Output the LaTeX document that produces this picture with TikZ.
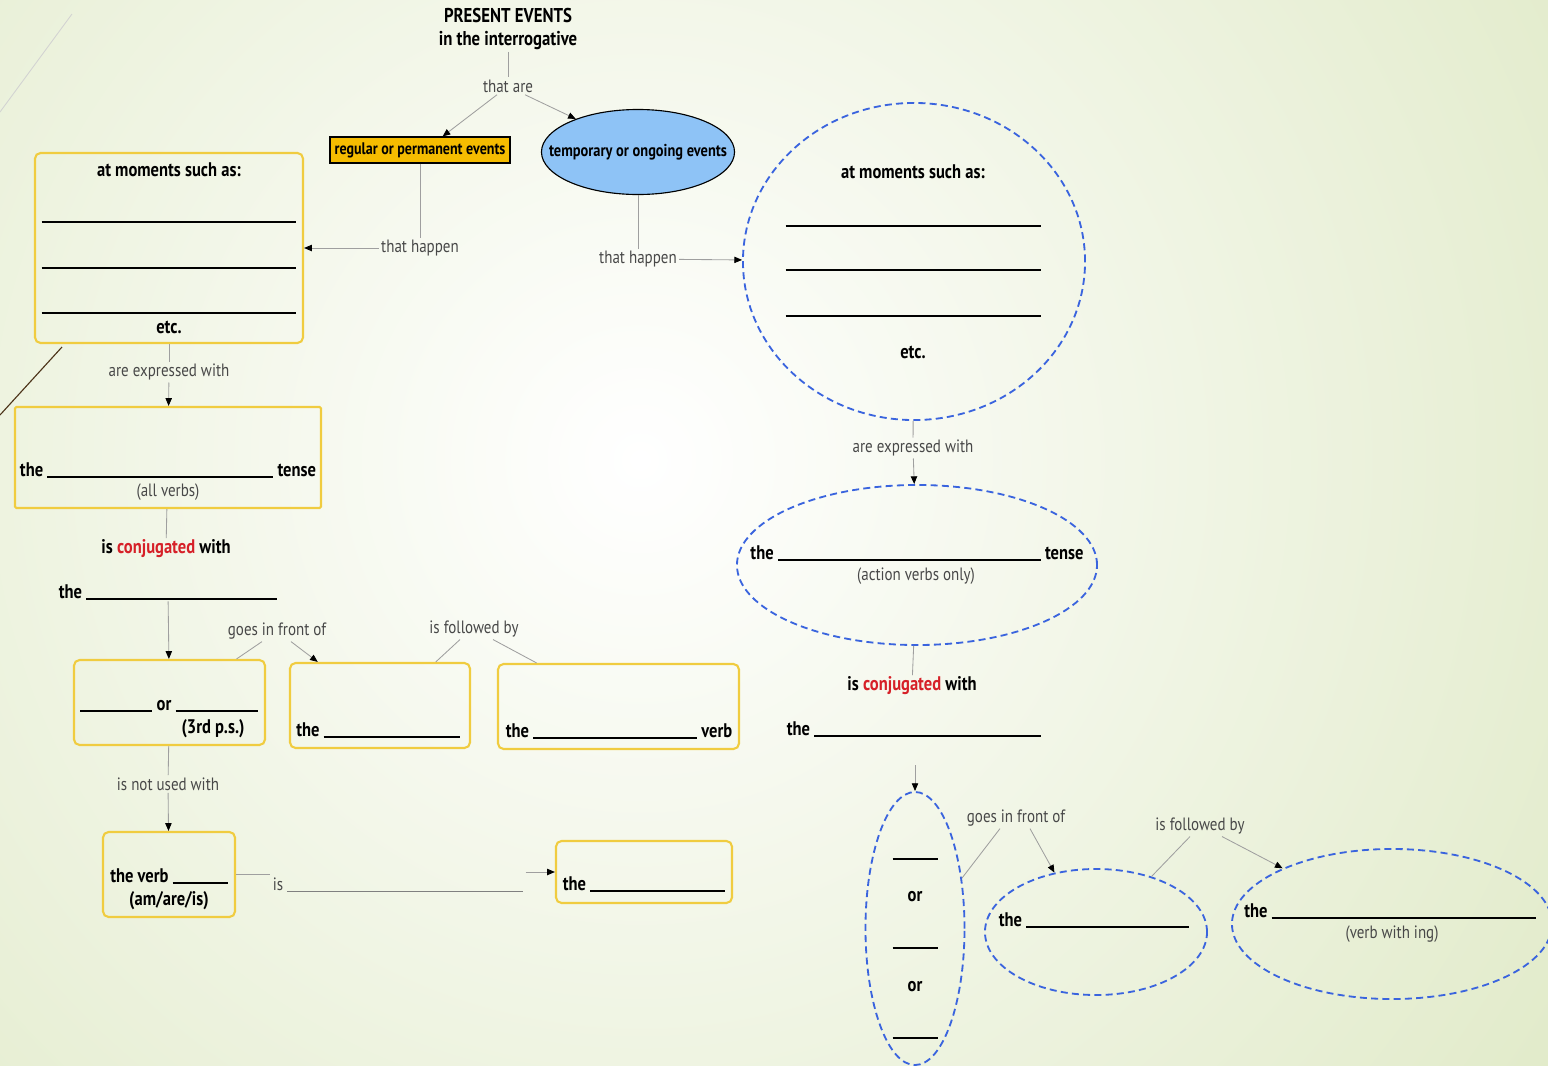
\documentclass[tikz,border=0pt]{standalone}
\usepackage{fontspec}
\setmainfont{PT Sans}[FakeStretch=0.84]
\usetikzlibrary{shapes.geometric,arrows.meta,calc}
\definecolor{boxyellow}{RGB}{240,204,64}
\definecolor{regfill}{RGB}{245,188,0}
\definecolor{tmpfill}{RGB}{142,195,246}
\definecolor{dashblue}{RGB}{58,100,222}
\definecolor{labgray}{RGB}{72,72,72}
\definecolor{conjred}{RGB}{214,32,40}
\definecolor{bggreen}{RGB}{220,231,192}
\newlength\pxu
\setlength\pxu{0.025cm}
\newcommand{\blank}[1]{\rule[-1.2pt]{#1\pxu}{0.9pt}}
\newcommand{\conjwith}{is \textcolor{conjred}{conjugated} with}

\begin{document}
\begin{tikzpicture}[x=0.025cm,y=-0.025cm,
  every node/.style={font=\fontsize{12.7}{15}\selectfont},
  ybox/.style={draw=boxyellow,line width=1.5pt,rounded corners=4pt,inner sep=0pt},
  bell/.style={ellipse,draw=dashblue,dash pattern=on 5pt off 3pt,line width=1.3pt,inner sep=0pt},
  bt/.style={font=\fontsize{14}{16}\selectfont\bfseries,inner sep=1pt},
  lab/.style={text=labgray,inner sep=1.5pt},
  gt/.style={text=labgray,inner sep=1pt},
  ln/.style={draw=gray!75,line width=0.6pt},
  arr/.style={ln,-{Triangle[length=5.5pt,width=4.5pt,black]}}]
  \useasboundingbox (0,0) rectangle (1548,1066);
  \clip (0,0) rectangle (1548,1066);
  \fill[bggreen] (0,0) rectangle (1548,1066);
  \shade[inner color=white,outer color=bggreen] (640,460) circle [radius=1300];
  \draw[gray!35,line width=0.6pt] (72,14) -- (0,112);
  \draw[black!60!brown,line width=0.8pt] (62,347) -- (0,415);

  % top
  \node[bt,align=center,font=\fontsize{14.2}{17}\selectfont\bfseries] (title) at (508,29) {PRESENT EVENTS\\in the interrogative};
  \node[lab] (thatare) at (508,86) {that are};
  \node[draw=black,fill=regfill,line width=0.8pt,inner sep=1pt,minimum width=4.5cm,minimum height=0.65cm,font=\fontsize{11.9}{13}\selectfont\bfseries] (reg) at (420,150) {regular or permanent events};
  \node[ellipse,draw=black,fill=tmpfill,line width=0.8pt,inner sep=0pt,minimum width=4.825cm,minimum height=2.125cm] (tmp) at (638,152) {};
  \node[font=\fontsize{12.2}{14}\selectfont\bfseries,inner sep=0pt] (tmpt) at (638,152) {temporary or ongoing events};
  \node[lab] (hap1) at (420,248) {that happen};
  \node[lab] (hap2) at (638,259) {that happen};

  % left column
  \node[ybox,minimum width=6.7cm,minimum height=4.75cm] (mom1) at (169,248) {};
  \node[bt,anchor=base] (mom1t) at (169,176) {at moments such as:};
  \foreach \y/\n in {222/a,268/b,313/c}
    \node[inner sep=0pt] (mom1\n) at (169,\y) {\rule{255\pxu}{0.9pt}};
  \node[bt,anchor=base] (mom1e) at (169,333) {etc.};
  \node[lab] (exp1) at (169,372) {are expressed with};
  \node[ybox,rounded corners=1pt,minimum width=7.65cm,minimum height=2.525cm] (tense1) at (168,457.5) {};
  \node[bt,anchor=base] (tense1t) at (168,476) {the \blank{226} tense};
  \node[gt] (tense1n) at (168,492) {(all verbs)};
  \node[bt] (conj1) at (166,549) {\conjwith};
  \node[bt,anchor=base] (the1) at (168,598) {the \blank{191}};

  \node[ybox,minimum width=4.775cm,minimum height=2.125cm] (orbox) at (169.5,702.5) {};
  \node[bt,anchor=base] (orboxt) at (169,710) {\blank{72} or \blank{82}};
  \node[bt,anchor=base] (orboxn) at (213,733) {(3rd p.s.)};
  \node[lab] (goes1) at (277,631) {goes in front of};
  \node[ybox,minimum width=4.5cm,minimum height=2.125cm] (theb2) at (380,705.5) {};
  \node[bt,anchor=base] (theb2t) at (378,736) {the \blank{136}};
  \node[lab] (foll1) at (474,629) {is followed by};
  \node[ybox,minimum width=6.025cm,minimum height=2.125cm] (verbb) at (618.5,706.5) {};
  \node[bt,anchor=base] (verbbt) at (619,737) {the \blank{164} verb};

  \node[lab] (notused) at (168,784) {is not used with};
  \node[ybox,minimum width=3.3cm,minimum height=2.125cm] (amb) at (169,874.5) {};
  \node[bt,anchor=base] (ambt) at (169,882) {the verb \blank{55}};
  \node[bt,anchor=base] (ambn) at (169,905) {(am/are/is)};
  \node[lab,anchor=base] (isl) at (398,890) {is \textcolor{gray}{\rule[-1pt]{236\pxu}{0.5pt}}};
  \node[ybox,minimum width=4.4cm,minimum height=1.55cm] (theb5) at (644,872) {};
  \node[bt,anchor=base] (theb5t) at (644,890) {the \blank{135}};

  % right column
  \node[bell,minimum width=8.55cm,minimum height=7.925cm] (mom2) at (914,261.5) {};
  \node[bt,anchor=base] (mom2t) at (913,178) {at moments such as:};
  \foreach \y/\n in {226/a,270/b,316/c}
    \node[inner sep=0pt] (mom2\n) at (913,\y) {\rule{255\pxu}{0.9pt}};
  \node[bt,anchor=base] (mom2e) at (913,358) {etc.};
  \node[lab] (exp2) at (913,448) {are expressed with};
  \node[bell,minimum width=9cm,minimum height=4cm] (tense2) at (917,565) {};
  \node[bt,anchor=base] (tense2t) at (917,559) {the \blank{263} tense};
  \node[gt] (tense2n) at (916,576) {(action verbs only)};
  \node[bt] (conj2) at (912,686) {\conjwith};
  \node[bt,anchor=base] (the2) at (914,735) {the \blank{227}};
  \coordinate (c2) at (915,765);

  \node[bell,minimum width=2.475cm,minimum height=6.825cm] (orell) at (915,928.5) {};
  \foreach \y/\n in {859/a,948/b,1038/c}
    \node[inner sep=0pt] (orell\n) at (915,\y) {\rule{45\pxu}{0.9pt}};
  \node[bt] (orella) at (915,897) {or};
  \node[bt] (orellb) at (915,987) {or};
  \node[lab] (goes2) at (1016,818) {goes in front of};
  \node[bell,minimum width=5.55cm,minimum height=3.15cm] (the4) at (1096,932) {};
  \node[bt,anchor=base] (the4t) at (1094,926) {the \blank{163}};
  \node[lab] (foll2) at (1200,826) {is followed by};
  \node[bell,minimum width=8cm,minimum height=3.75cm] (the5) at (1392,924) {};
  \node[bt,anchor=base] (the5t) at (1390,917) {the \blank{264}};
  \node[gt] (the5n) at (1392,934) {(verb with ing)};

  % connectors
  \draw[ln] (title) -- (thatare);
  \draw[arr] ($(thatare.south)+(-11,0)$) -- (reg.31);
  \draw[arr] ($(thatare.south)+(17,0)$) -- (tmp.152);
  \draw[ln] (reg) -- (hap1);
  \draw[arr] (hap1) -- (mom1);
  \draw[ln] (tmp) -- (hap2);
  \draw[arr] (hap2) -- (mom2);

  \draw[ln] (mom1) -- (exp1);
  \draw[arr] (exp1) -- (tense1);
  \draw[ln] (tense1) -- (conj1);
  \draw[arr] (the1) -- (orbox);
  \draw[ln] (orbox.33) -- ($(goes1.south)+(-15,0)$);
  \draw[arr] ($(goes1.south)+(14,0)$) -- (theb2.145);
  \draw[ln] (theb2.38) -- ($(foll1.south)+(-14,0)$);
  \draw[ln] ($(foll1.south)+(19,0)$) -- (verbb.152);
  \draw[ln] (orbox) -- (notused);
  \draw[arr] (notused) -- (amb);
  \draw[ln] (amb.east) -- (amb.east -| isl.west);
  \draw[arr] (theb5.west -| isl.east) -- (theb5.west);

  \draw[ln] (mom2) -- (exp2);
  \draw[arr] (exp2) -- (tense2);
  \draw[ln] (tense2) -- (conj2);
  \draw[arr] (c2) -- (orell);
  \draw[ln] (orell.47) -- ($(goes2.south)+(-16,0)$);
  \draw[arr] ($(goes2.south)+(14,0)$) -- (the4.125);
  \draw[ln] (the4.45) -- ($(foll2.south)+(-10,0)$);
  \draw[arr] ($(foll2.south)+(22,0)$) -- (the5.153);
\end{tikzpicture}
\end{document}
